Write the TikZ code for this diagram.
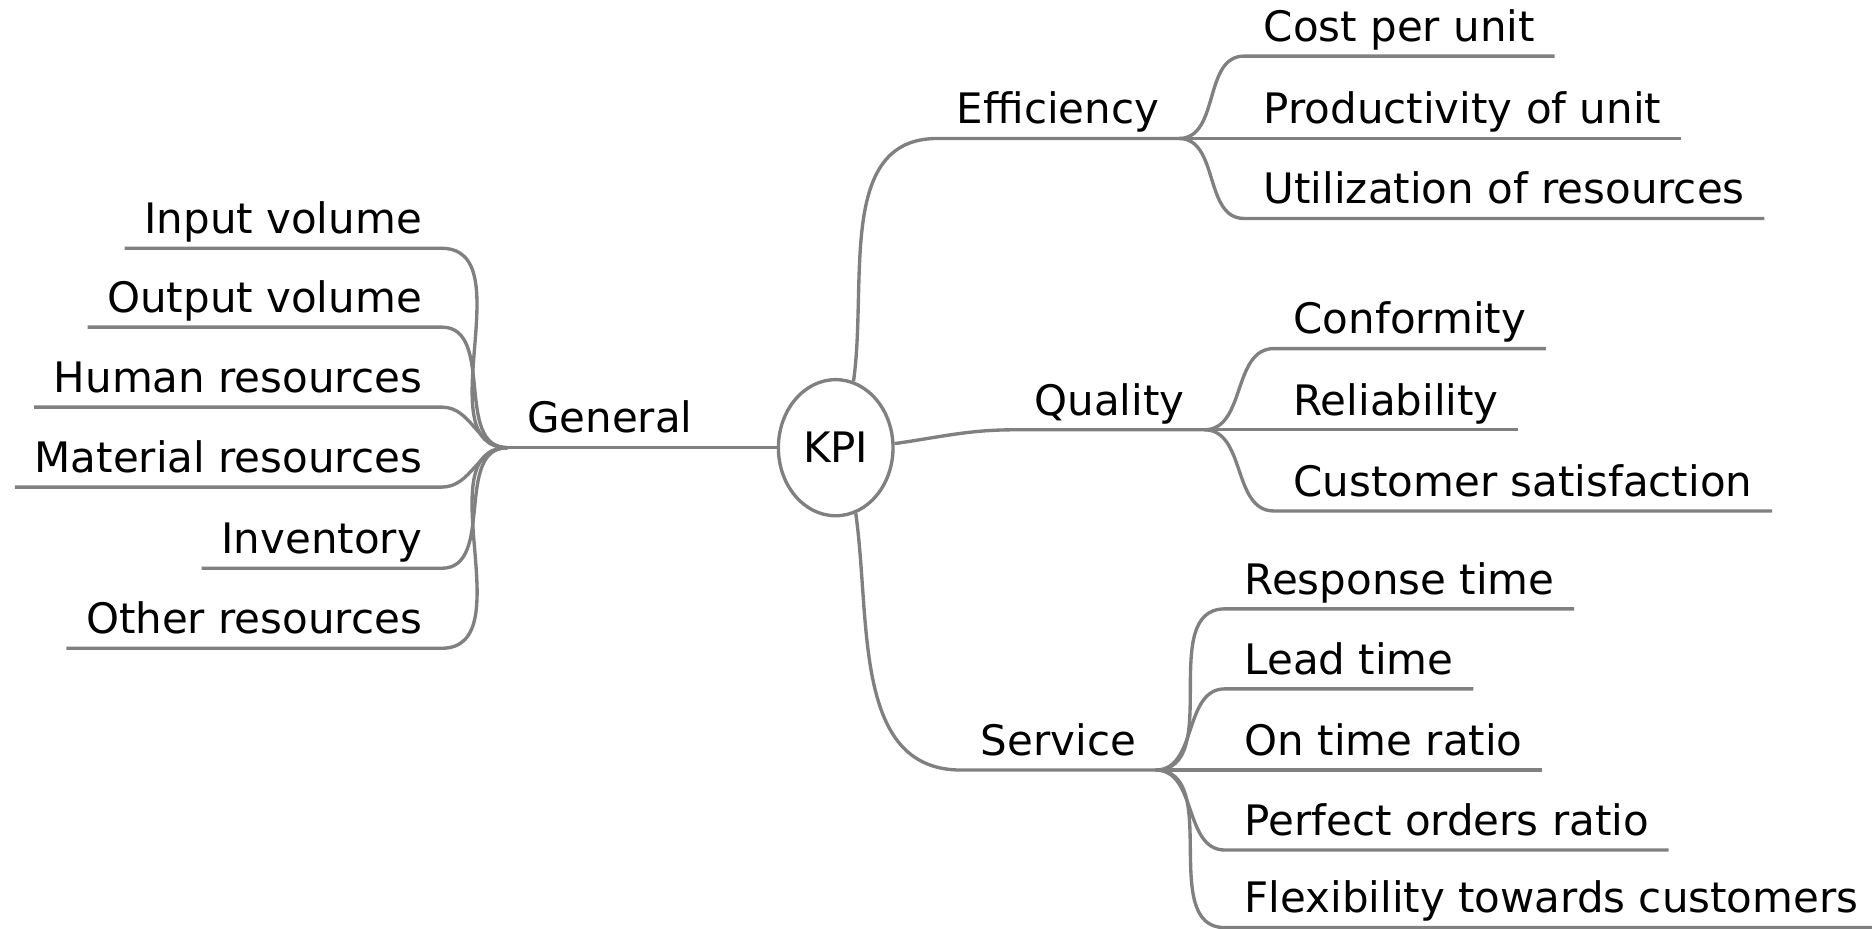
\documentclass[tikz,border=0pt]{standalone}
\usepackage{fontspec}
\setmainfont{DejaVu Sans}
\usetikzlibrary{shapes.geometric}
\definecolor{mapgray}{RGB}{128,128,128}

\begin{document}
\begin{tikzpicture}[x=0.0125cm, y=0.0125cm, font=\fontsize{12.5}{15}\selectfont,
	every node/.style={inner xsep=0.2cm, inner ysep=1.2pt, text depth=3pt},
	branch/.style={draw=mapgray, line width=1pt}]
	\useasboundingbox (0,0) rectangle (1568,-778);
	
	\node (kpi) at (700,-375) [ellipse, draw=mapgray, line width=1pt, minimum width=1.2cm, minimum height=1.425cm, inner sep=0pt, text depth=0pt] {KPI};
	
	\node (gen) at (425,-375) [anchor=south west] {General};
	\node (eff) at (785,-116) [anchor=south west] {Efficiency};
	\node (qual) at (850,-360) [anchor=south west] {Quality};
	\node (serv) at (805,-645) [anchor=south west] {Service};
	
	\node (inp) at (370,-208) [anchor=south east] {Input volume};
	\node (outp) at (370,-274) [anchor=south east] {Output volume};
	\node (human) at (370,-341) [anchor=south east] {Human resources};
	\node (mat) at (370,-408) [anchor=south east] {Material resources};
	\node (inv) at (370,-476) [anchor=south east] {Inventory};
	\node (other) at (370,-543) [anchor=south east] {Other resources};
	
	\node (cost) at (1042,-47) [anchor=south west] {Cost per unit};
	\node (prod) at (1042,-116) [anchor=south west] {Productivity of unit};
	\node (util) at (1042,-183) [anchor=south west] {Utilization of resources};
	
	\node (conf) at (1067,-292) [anchor=south west] {Conformity};
	\node (rel) at (1067,-360) [anchor=south west] {Reliability};
	\node (sat) at (1067,-428) [anchor=south west] {Customer satisfaction};
	
	\node (resp) at (1026,-510) [anchor=south west] {Response time};
	\node (lead) at (1026,-577) [anchor=south west] {Lead time};
	\node (ontime) at (1026,-645) [anchor=south west] {On time ratio};
	\node (perf) at (1026,-712) [anchor=south west] {Perfect orders ratio};
	\node (flex) at (1026,-777) [anchor=south west] {Flexibility towards customers};
	
	\draw[branch] (kpi.west) -- (gen.south west);
	\draw[branch] (kpi.75) to[out=82,in=180] (eff.south west) -- (eff.south east);
	\draw[branch] (kpi.4) to[out=8,in=180] (qual.south west) -- (qual.south east);
	\draw[branch] (kpi.-73) to[out=-82,in=180] (serv.south west) -- (serv.south east);
	
	\draw[branch] (inp.south west) -- (inp.south east) to[out=0,in=180] (gen.south west);
	\draw[branch] (outp.south west) -- (outp.south east) to[out=0,in=180] (gen.south west);
	\draw[branch] (human.south west) -- (human.south east) to[out=0,in=180] (gen.south west);
	\draw[branch] (mat.south west) -- (mat.south east) to[out=0,in=180] (gen.south west);
	\draw[branch] (inv.south west) -- (inv.south east) to[out=0,in=180] (gen.south west);
	\draw[branch] (other.south west) -- (other.south east) to[out=0,in=180] (gen.south west);
	
	\draw[branch] (eff.south east) to[out=0,in=180] (cost.south west) -- (cost.south east);
	\draw[branch] (eff.south east) to[out=0,in=180] (prod.south west) -- (prod.south east);
	\draw[branch] (eff.south east) to[out=0,in=180] (util.south west) -- (util.south east);
	
	\draw[branch] (qual.south east) to[out=0,in=180] (conf.south west) -- (conf.south east);
	\draw[branch] (qual.south east) to[out=0,in=180] (rel.south west) -- (rel.south east);
	\draw[branch] (qual.south east) to[out=0,in=180] (sat.south west) -- (sat.south east);
	
	\draw[branch] (serv.south east) to[out=0,in=180] (resp.south west) -- (resp.south east);
	\draw[branch] (serv.south east) to[out=0,in=180] (lead.south west) -- (lead.south east);
	\draw[branch] (serv.south east) to[out=0,in=180] (ontime.south west) -- (ontime.south east);
	\draw[branch] (serv.south east) to[out=0,in=180] (perf.south west) -- (perf.south east);
	\draw[branch] (serv.south east) to[out=0,in=180] (flex.south west) -- (flex.south east);
	
\end{tikzpicture}
\end{document}
